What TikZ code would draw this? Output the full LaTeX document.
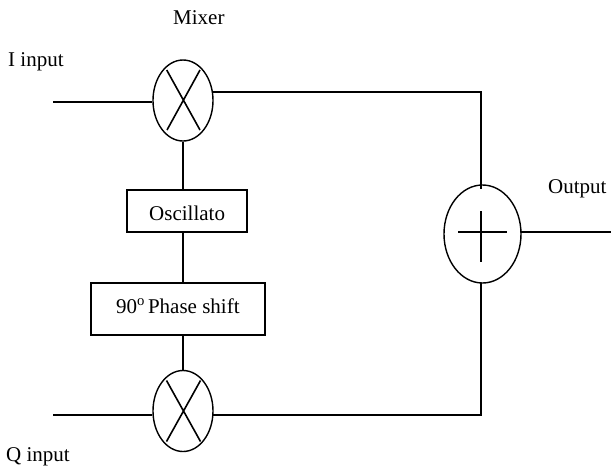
\documentclass[tikz,border=0pt]{standalone}
\usepackage{fontspec}
\setmainfont{Liberation Serif}
\usetikzlibrary{shapes.geometric}
\tikzset{
  wire/.style={line width=1.6pt},
  mixerell/.style={ellipse,draw,line width=1.4pt,inner sep=0pt,minimum width=60pt,minimum height=81pt},
  adderell/.style={ellipse,draw,line width=1.4pt,inner sep=0pt,minimum width=77pt,minimum height=98pt},
  blockbox/.style={rectangle,draw,line width=1.6pt,inner sep=0pt},
  lbl/.style={anchor=base west,inner sep=0pt,font=\fontsize{21}{24}\selectfont}
}
\begin{document}
\begin{tikzpicture}[x=1pt,y=-1pt]
\useasboundingbox (0,0) rectangle (611,467);
% shapes
\node[mixerell] (m1) at (183,100.5) {};
\node[mixerell] (m2) at (183,411) {};
\node[adderell] (add) at (482.5,234) {};
\node[blockbox,minimum width=120pt,minimum height=41.5pt] (osc) at (187,211) {};
\node[blockbox,minimum width=174pt,minimum height=52pt] (ps) at (178,309) {};
% free ends
\coordinate (iin) at (53,102);
\coordinate (qin) at (53,415);
\coordinate (outr) at (611,232);
\coordinate (m1out) at (213,92);
\coordinate (m2out) at (212.5,415);
\coordinate (addtop) at (481,189);
\coordinate (addbot) at (481,283);
\coordinate (addout) at (521,232);
\coordinate (x1a) at (166.7,70);
\coordinate (x1b) at (200,130);
\coordinate (x1c) at (200,70);
\coordinate (x1d) at (167,130);
\coordinate (x2a) at (166.5,380.5);
\coordinate (x2b) at (200.5,441.5);
\coordinate (x2c) at (200.5,380.5);
\coordinate (x2d) at (166.5,441.5);
\coordinate (p1) at (458,232);
\coordinate (p2) at (507,232);
\coordinate (p3) at (481,211);
\coordinate (p4) at (481,262);
% connectors
\draw[wire] (iin) -- (m1.west |- iin);
\draw[wire] (qin) -- (m2.west |- qin);
\draw[wire] (m1.south) -- (m1.south |- osc.north);
\draw[wire] (m1.south |- osc.south) -- (m1.south |- ps.north);
\draw[wire] (m2.north |- ps.south) -- (m2.north);
\draw[wire] (m1out) -| (addtop);
\draw[wire] (m2out) -| (addbot);
\draw[wire] (addout) -- (outr);
% symbols
\draw[wire] (x1a) -- (x1b) (x1c) -- (x1d);
\draw[wire] (x2a) -- (x2b) (x2c) -- (x2d);
\draw[wire] (p1) -- (p2) (p3) -- (p4);
% text
\node[lbl] (tmixer) at (173,24) {Mixer};
\node[lbl] (tiin) at (8,66) {I input};
\node[lbl] (tqin) at (6,461) {Q input};
\node[lbl] (tout) at (548,193) {Output};
\node[lbl] (tosc) at (149,220) {Oscillato};
\node[lbl] (tps) at (116,313) {90\textsuperscript{o}\kern3pt Phase shift};
\end{tikzpicture}
\end{document}
